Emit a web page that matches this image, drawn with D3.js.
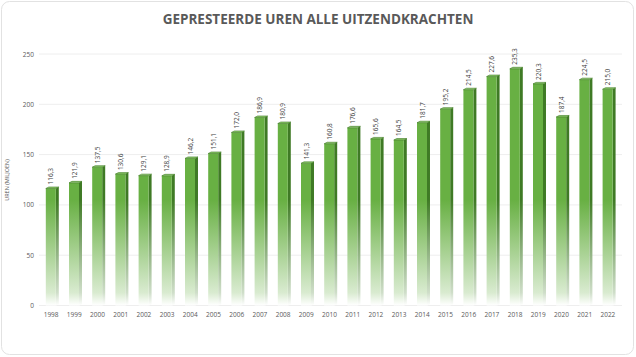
<!DOCTYPE html>
<html><head><meta charset="utf-8">
<script src="https://cdn.jsdelivr.net/npm/d3@7"></script>
<style>body{margin:0;background:#fff;}svg{display:block;font-family:"Open Sans","Liberation Sans",sans-serif;}</style>
</head><body><svg id="c" width="636" height="357"></svg>
<script>
const years = ["1998","1999","2000","2001","2002","2003","2004","2005","2006","2007","2008","2009","2010","2011","2012","2013","2014","2015","2016","2017","2018","2019","2020","2021","2022"];
const hours = [116.3,121.9,137.5,130.6,129.1,128.9,146.2,151.1,172.0,186.9,180.9,141.3,160.8,176.6,165.6,164.5,181.7,195.2,214.5,227.6,235.3,220.3,187.4,224.5,215.0];
const yTicks = [0,50,100,150,200,250];
const title = "GEPRESTEERDE UREN ALLE UITZENDKRACHTEN";
const yTitle = "UREN (MILJOEN)";

const svg = d3.select("#c");
svg.append("rect").attr("x",1.5).attr("y",1.5).attr("width",632).attr("height",353).attr("rx",8)
  .attr("fill","#fff").attr("stroke","#e2e2e2");

const x = d3.scaleBand().domain(years).range([39.5,619.5]).paddingInner(0.44).paddingOuter(0.22);
const y = d3.scaleLinear().domain([0,250]).range([305.5,54]);

const defs = svg.append("defs");
function grad(id, col){
  const g = defs.append("linearGradient").attr("id",id).attr("gradientUnits","userSpaceOnUse")
    .attr("x1",0).attr("x2",0).attr("y1",y(0)).attr("y2",y(105));
  g.append("stop").attr("offset",0).attr("stop-color","#ffffff");
  g.append("stop").attr("offset",0.12).attr("stop-color",d3.interpolateRgb("#ffffff",col)(0.25));
  g.append("stop").attr("offset",1).attr("stop-color",col);
}
grad("gFront","#68b043");
grad("gSide","#3f7a25");

// gridlines
svg.append("g").selectAll("line").data(yTicks).join("line")
  .attr("x1",39).attr("x2",622).attr("y1",d=>y(d)).attr("y2",d=>y(d))
  .attr("stroke","#eeeeee").attr("stroke-width",1);

// y axis labels
const ya = svg.append("g").attr("transform","translate(34,0)")
  .call(d3.axisLeft(y).tickValues(yTicks).tickSize(0).tickPadding(0));
ya.select(".domain").remove();
ya.selectAll("text").attr("font-size",6.5).attr("fill","#595959").attr("font-family","Open Sans, sans-serif");

// x axis labels
const xa = svg.append("g").attr("transform","translate(0,"+(y(0)+6.5)+")")
  .call(d3.axisBottom(x).tickSize(0).tickPadding(0));
xa.select(".domain").remove();
xa.selectAll("text").attr("font-size",6.5).attr("fill","#595959").attr("font-family","Open Sans, sans-serif");

// bars
const d = 3, shift = 1.2;
const bars = svg.append("g").selectAll("g").data(hours).join("g");
bars.each(function(v,i){
  const g = d3.select(this);
  const x0 = x(years[i]) + shift, w = x.bandwidth() - d, yt = y(v), yb = y(0);
  g.append("polygon").attr("points",[[x0+w,yt],[x0+w+d,yt-1.5],[x0+w+d,yb-1],[x0+w,yb]].join(" "))
    .attr("fill","url(#gSide)");
  g.append("rect").attr("x",x0).attr("y",yt).attr("width",w).attr("height",yb-yt).attr("fill","url(#gFront)");
  g.append("polygon").attr("points",[[x0,yt],[x0+d,yt-1.5],[x0+w+d,yt-1.5],[x0+w,yt]].join(" "))
    .attr("fill","#8cc96a").attr("stroke","#3f7a25").attr("stroke-width",0.6);
  g.append("text").attr("transform",`translate(${x0+w/2+2.5},${yt-4}) rotate(-90)`)
    .attr("font-size",6.5).attr("fill","#404040").attr("text-anchor","start")
    .text(d3.format(".1f")(v).replace(".",","));
});

svg.append("text").attr("x",318).attr("y",24).attr("text-anchor","middle")
  .attr("font-size",13.5).attr("font-weight","bold").attr("fill","#595959").text(title);

svg.append("text").attr("transform","translate(9,180) rotate(-90)").attr("text-anchor","middle")
  .attr("font-size",5.5).attr("fill","#595959").text(yTitle);
</script></body></html>
